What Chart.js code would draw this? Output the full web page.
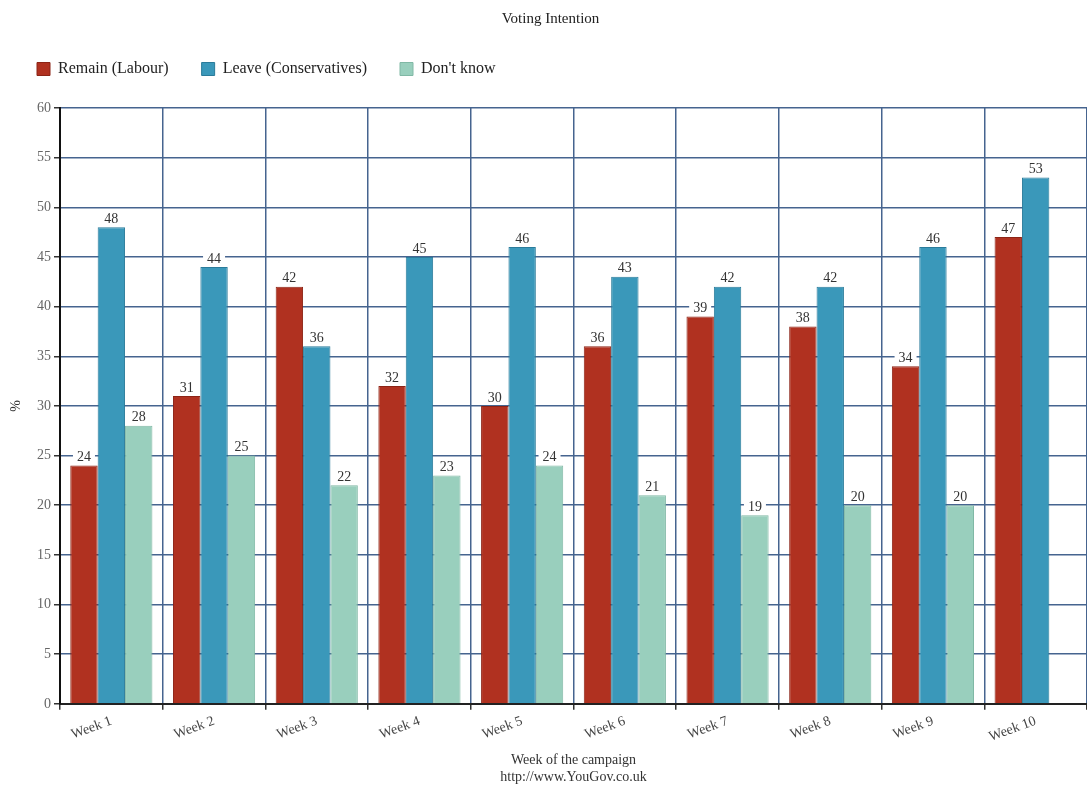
<!DOCTYPE html>
<html>
<head>
<meta charset="utf-8">
<script src="https://cdn.jsdelivr.net/npm/chart.js@4.4.1/dist/chart.umd.min.js"></script>
<style>
  html, body { margin: 0; padding: 0; background: #fff; overflow: hidden; }
  #wrap { width: 1087px; height: 787px; }
</style>
</head>
<body>
<div id="wrap"><canvas id="votingChart" width="1087" height="787"></canvas></div>
<script>
const weeks = ["Week 1", "Week 2", "Week 3", "Week 4", "Week 5", "Week 6", "Week 7", "Week 8", "Week 9", "Week 10"];
const remain = [24, 31, 42, 32, 30, 36, 39, 38, 34, 47];
const leave = [48, 44, 36, 45, 46, 43, 42, 42, 46, 53];
const dontKnow = [28, 25, 22, 23, 24, 21, 19, 20, 20, null];

const serif = "'Liberation Serif', 'DejaVu Serif', serif";
const gridColour = "#46648f";

// etichette sopra le barre, con fondo bianco
const valueLabels = {
    id: "valueLabels",
    afterDatasetsDraw(chart) {
        const ctx = chart.ctx;
        ctx.save();
        ctx.font = "14px " + serif;
        ctx.textAlign = "center";
        ctx.textBaseline = "bottom";
        chart.data.datasets.forEach((ds, i) => {
            const meta = chart.getDatasetMeta(i);
            meta.data.forEach((bar, j) => {
                const v = ds.data[j];
                if (v === null || v === undefined) return;
                const txt = String(v);
                const w = ctx.measureText(txt).width + 8;
                ctx.fillStyle = "#fff";
                ctx.fillRect(bar.x - w / 2, bar.y - 18, w, 16);
                ctx.fillStyle = "#333";
                ctx.fillText(txt, bar.x, bar.y - 1);
            });
        });
        ctx.restore();
    }
};

// spazio extra sotto la legenda
const legendGap = {
    id: "legendGap",
    beforeInit(chart) {
        const fit = chart.legend.fit;
        chart.legend.fit = function () {
            fit.call(this);
            this.height += 21;
        };
    }
};

new Chart(document.getElementById("votingChart"), {
    type: "bar",
    data: {
        labels: weeks,
        datasets: [
            { label: "Remain (Labour)", data: remain, backgroundColor: "#b03120", borderColor: "#8c2416", borderWidth: 1 },
            { label: "Leave (Conservatives)", data: leave, backgroundColor: "#3a98ba", borderColor: "#2a7b9a", borderWidth: 1 },
            { label: "Don't know", data: dontKnow, backgroundColor: "#99cfbd", borderColor: "#80b8a5", borderWidth: 1 }
        ]
    },
    options: {
        responsive: false,
        animation: false,
        layout: { padding: { left: 4, right: -10, top: 0, bottom: 1 } },
        datasets: { bar: { categoryPercentage: 0.8, barPercentage: 1.0 } },
        plugins: {
            title: {
                display: true,
                text: "Voting Intention",
                color: "#222",
                font: { family: serif, size: 15, weight: "normal" },
                padding: { top: 10, bottom: 0 }
            },
            legend: {
                align: "start",
                labels: {
                    color: "#222",
                    font: { family: serif, size: 16 },
                    boxWidth: 13,
                    boxHeight: 13,
                    padding: 33
                }
            },
            tooltip: { enabled: false }
        },
        scales: {
            x: {
                grid: { color: gridColour, lineWidth: 1.5, tickLength: 6, tickColor: "#333" },
                border: { color: "#222", width: 2 },
                ticks: {
                    color: "#444",
                    font: { family: serif, size: 14 },
                    minRotation: 20,
                    maxRotation: 20
                },
                title: {
                    display: true,
                    text: ["Week of the campaign", "http://www.YouGov.co.uk"],
                    color: "#333",
                    font: { family: serif, size: 14 },
                    padding: { top: 4, bottom: 0 }
                }
            },
            y: {
                min: 0,
                max: 60,
                afterFit(scale) { scale.width = 56; },
                grid: { color: gridColour, lineWidth: 1.5, tickLength: 6, tickColor: "#333" },
                border: { color: "#111", width: 2 },
                ticks: {
                    stepSize: 5,
                    color: "#666",
                    font: { family: serif, size: 14 },
                    padding: 3
                },
                title: {
                    display: true,
                    text: "%",
                    color: "#333",
                    font: { family: serif, size: 14 },
                    padding: 4
                }
            }
        }
    },
    plugins: [valueLabels, legendGap]
});
</script>
</body>
</html>
